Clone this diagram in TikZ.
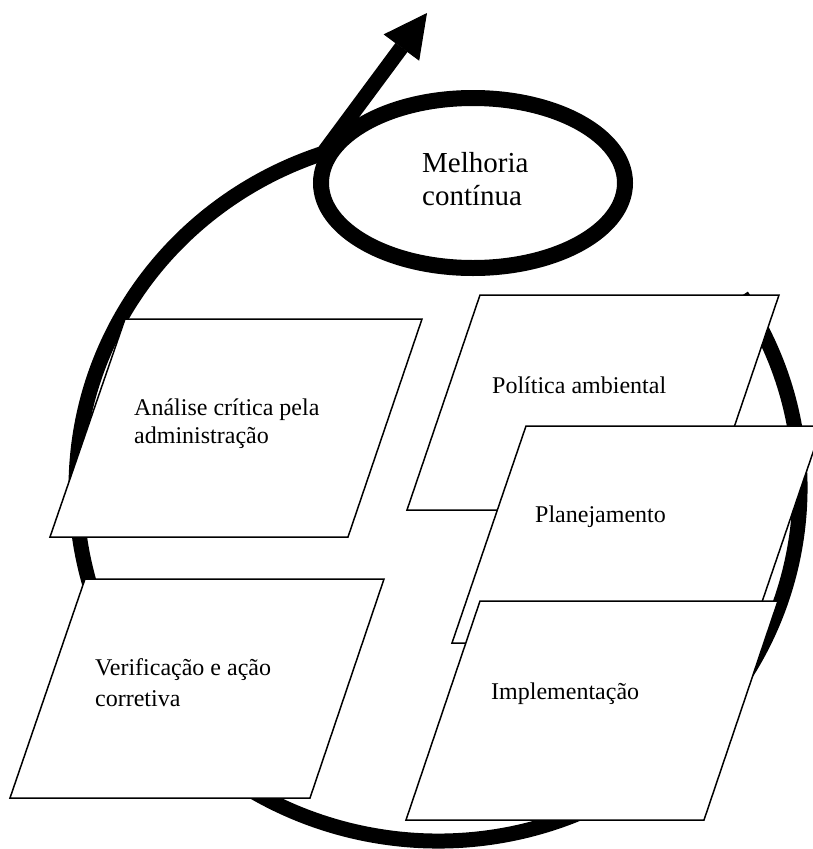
\documentclass[tikz,border=0pt]{standalone}
\usepackage{fontspec}
\setmainfont{Liberation Serif}
\usetikzlibrary{arrows.meta,shapes.geometric}

% left-aligned lines of text; baseline of the box = baseline of the first line
\newcommand\txtlines[2]{\vtop{\baselineskip=#1\relax\halign{##\hfil\cr#2\crcr}}}

\tikzset{
  cyclearc/.style={line width=15pt, line join=round},
  panel/.style={draw=black, fill=white, line width=1.5pt, line join=miter},
  boxtext/.style={anchor=base west, inner sep=0pt, font=\fontsize{24}{28}\selectfont},
  bigtext/.style={anchor=base west, inner sep=0pt, font=\fontsize{29}{33}\selectfont}
}

\begin{document}
\begin{tikzpicture}[x=1pt, y=-1pt]
  \useasboundingbox (0,0) rectangle (813,849);

  % the improvement cycle: clockwise arc leaving upwards as an arrow
  \coordinate (ctr) at (438,488);
  \coordinate (tip) at (427,13);
  \draw[cyclearc, -{Triangle[length=43pt, width=44pt, line width=1pt]}]
    ([shift={(33.0:362pt and 353pt)}]ctr)
    arc[start angle=33.0, end angle=-251.5, x radius=362pt, y radius=353pt]
    coordinate (cycleend) -- (tip);

  % continual improvement
  \node[ellipse, draw, fill=white, line width=16pt, inner sep=0pt,
        minimum width=304pt, minimum height=170pt] (melhoria) at (473,183) {};
  \node[bigtext] (melhoriatxt) at (422,172)
    {\txtlines{33pt}{Melhoria\cr contínua}};

  % stages
  \filldraw[panel] (125,319) -- (422,319) -- (348,537) -- (50,537) -- cycle;
  \node[boxtext] (analise) at (134,415)
    {\txtlines{28pt}{Análise crítica pela\cr administração}};

  \filldraw[panel] (480,295) -- (779,295) -- (706,510) -- (407,510) -- cycle;
  \node[boxtext] (politica) at (492,393) {Política ambiental};

  \filldraw[panel] (526,426) -- (822,426) -- (748,643) -- (452,643) -- cycle;
  \node[boxtext] (planejamento) at (535,522) {Planejamento};

  \filldraw[panel] (480,601) -- (778,601) -- (704,820) -- (406,820) -- cycle;
  \node[boxtext] (implementacao) at (491,699) {Implementação};

  \filldraw[panel] (85,579) -- (384,579) -- (310,798) -- (10,798) -- cycle;
  \node[boxtext] (verificacao) at (95,675)
    {\txtlines{31pt}{Verificação e ação\cr corretiva}};
\end{tikzpicture}
\end{document}
